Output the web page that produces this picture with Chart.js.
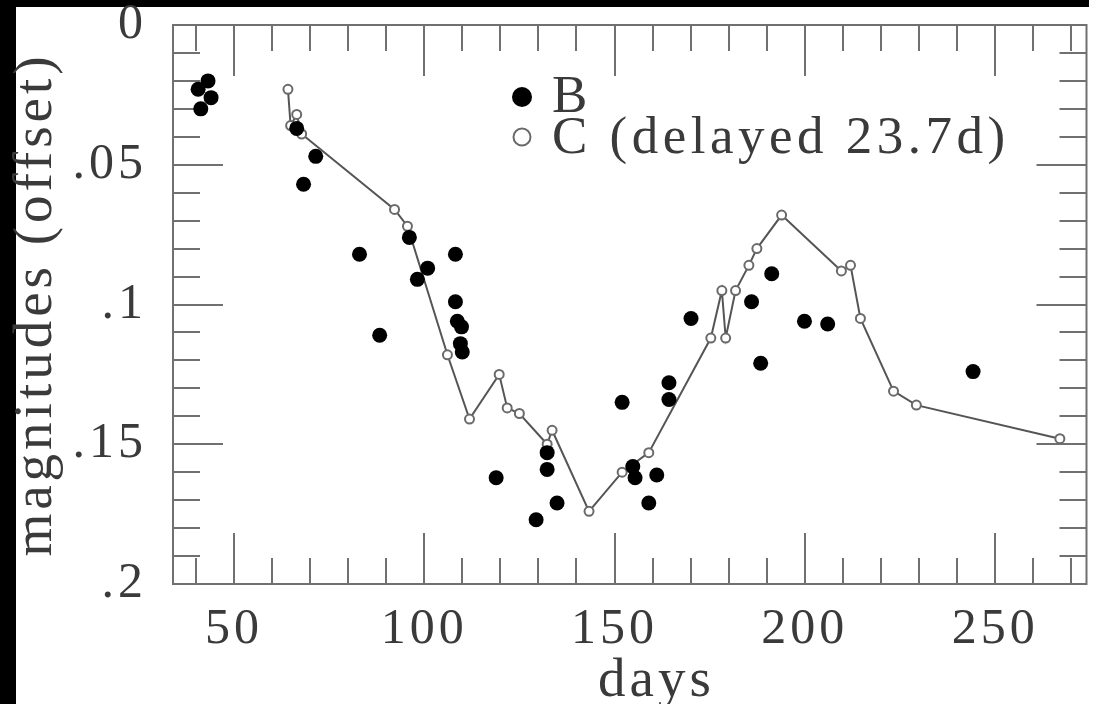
<!DOCTYPE html>
<html>
<head>
<meta charset="utf-8">
<script src="https://cdn.jsdelivr.net/npm/chart.js@4"></script>
<style>
  html, body { margin: 0; padding: 0; background: #fff; }
  canvas { display: block; }
</style>
</head>
<body>
<canvas id="lightcurve" width="1094" height="704"></canvas>
<script>
// image B, filled circles
const bDays = [43.2, 40.6, 44.0, 41.3, 66.5, 71.5, 68.3, 83.0, 88.3, 96.1, 98.2, 100.9,
  108.2, 108.2, 108.7, 109.8, 109.5, 110.0, 118.9, 129.4, 132.3, 132.3, 134.9, 152.0,
  154.8, 155.4, 161.1, 159.0, 164.3, 164.3, 170.1, 186.0, 191.3, 188.4, 199.9, 206.0, 244.2];
const bMags = [0.020, 0.023, 0.026, 0.030, 0.037, 0.047, 0.057, 0.082, 0.111, 0.076, 0.091, 0.087,
  0.082, 0.099, 0.106, 0.108, 0.114, 0.117, 0.162, 0.177, 0.153, 0.159, 0.171, 0.135,
  0.158, 0.162, 0.161, 0.171, 0.128, 0.134, 0.105, 0.099, 0.089, 0.121, 0.106, 0.107, 0.124];

// image C shifted by the delay, open circles joined by a line
const cDays = [64.2, 64.9, 66.5, 67.8, 92.2, 95.6, 106.1, 111.9, 119.7, 121.8, 125.0, 132.3,
  133.6, 143.3, 152.0, 159.0, 175.3, 178.2, 179.2, 181.8, 185.3, 187.4, 193.9, 209.6,
  212.0, 214.6, 223.3, 229.3, 267.0];
const cMags = [0.023, 0.036, 0.032, 0.039, 0.066, 0.072, 0.118, 0.141, 0.125, 0.137, 0.139, 0.150,
  0.145, 0.174, 0.160, 0.153, 0.112, 0.095, 0.112, 0.095, 0.086, 0.080, 0.068, 0.088,
  0.086, 0.105, 0.131, 0.136, 0.148];

const xTicks = [50, 100, 150, 200, 250];
const yTicks = [0, 0.05, 0.1, 0.15, 0.2];
const yTickLabels = ['0', '.05', '.1', '.15', '.2'];
const legendLabels = ['B', 'C (delayed 23.7d)'];

const serif = '"Liberation Serif", "Times New Roman", serif';
const inkColor = '#3a3a3a';

function points(xs, ys) {
  return xs.map((d, i) => ({x: d, y: ys[i]}));
}

// white page with the black scan edges, inward ticks and the box frame
const frameTicks = {
  id: 'frameTicks',
  beforeDraw(chart) {
    const ctx = chart.ctx;
    ctx.save();
    ctx.fillStyle = '#fff';
    ctx.fillRect(0, 0, chart.width, chart.height);
    ctx.fillStyle = '#000';
    ctx.fillRect(0, 0, 16, chart.height);
    ctx.fillRect(0, 0, 1089, 7);
    ctx.restore();
    ctx.letterSpacing = '4px';
  },
  beforeDatasetsDraw(chart) {
    const {ctx, chartArea: a, scales: {x, y}} = chart;
    ctx.save();
    ctx.strokeStyle = '#707070';
    ctx.lineWidth = 2;
    ctx.beginPath();
    for (let d = 40; d <= 270; d += 10) {
      const px = Math.round(x.getPixelForValue(d));
      const len = d % 50 === 0 ? 51 : 26;
      ctx.moveTo(px, a.bottom); ctx.lineTo(px, a.bottom - len);
      ctx.moveTo(px, a.top); ctx.lineTo(px, a.top + len);
    }
    for (let i = 1; i < 20; i++) {
      const py = Math.round(y.getPixelForValue(i / 100));
      const len = i % 5 === 0 ? 50 : 27;
      ctx.moveTo(a.left, py); ctx.lineTo(a.left + len, py);
      ctx.moveTo(a.right, py); ctx.lineTo(a.right - len, py);
    }
    ctx.stroke();
    ctx.strokeRect(a.left, a.top, a.right - a.left, a.bottom - a.top);
    ctx.restore();
  }
};

// the key sits inside the box, top middle
const insetLegend = {
  id: 'insetLegend',
  afterDraw(chart) {
    const ctx = chart.ctx;
    const rows = [{cy: 97, base: 112}, {cy: 137, base: 153}];
    ctx.save();
    ctx.font = '53px ' + serif;
    ctx.letterSpacing = '4.5px';
    chart.data.datasets.forEach((ds, i) => {
      ctx.beginPath();
      ctx.arc(522, rows[i].cy, i === 0 ? 10 : 8.5, 0, Math.PI * 2);
      ctx.fillStyle = ds.pointBackgroundColor;
      ctx.fill();
      if (ds.pointBorderWidth) {
        ctx.lineWidth = 2;
        ctx.strokeStyle = ds.pointBorderColor;
        ctx.stroke();
      }
      ctx.fillStyle = inkColor;
      ctx.fillText(legendLabels[i], 552, rows[i].base);
    });
    ctx.restore();
  }
};

const ctx = document.getElementById('lightcurve');

new Chart(ctx, {
  type: 'scatter',
  data: {
    datasets: [
      {
        label: legendLabels[0],
        data: points(bDays, bMags),
        pointRadius: 7.5,
        pointBackgroundColor: '#000',
        pointBorderWidth: 0,
        showLine: false
      },
      {
        label: legendLabels[1],
        data: points(cDays, cMags),
        pointRadius: 4.5,
        pointBackgroundColor: '#fff',
        pointBorderColor: '#6a6a6a',
        pointBorderWidth: 2,
        showLine: true,
        borderColor: '#555',
        borderWidth: 2,
        tension: 0
      }
    ]
  },
  options: {
    responsive: false,
    animation: false,
    devicePixelRatio: 1,
    layout: { padding: { top: 25, right: 5, left: 0, bottom: 0 } },
    plugins: {
      legend: { display: false },
      tooltip: { enabled: false }
    },
    scales: {
      x: {
        type: 'linear',
        min: 34,
        max: 274,
        grid: { display: false },
        border: { display: false },
        afterBuildTicks: (scale) => { scale.ticks = xTicks.map(v => ({value: v})); },
        afterFit: (scale) => {
          scale.height = 120;
          scale.paddingLeft = 0;
          scale.paddingRight = 0;
        },
        ticks: {
          color: inkColor,
          padding: 8,
          maxRotation: 0,
          font: { family: serif, size: 50 }
        },
        title: {
          display: true,
          text: '\u00a0\u00a0\u00a0days',
          color: inkColor,
          padding: { top: 0, bottom: 0 },
          font: { family: serif, size: 55, lineHeight: 0.8 }
        }
      },
      y: {
        type: 'linear',
        reverse: true,
        min: 0,
        max: 0.2,
        grid: { display: false },
        border: { display: false },
        afterBuildTicks: (scale) => { scale.ticks = yTicks.map(v => ({value: v})); },
        afterFit: (scale) => {
          scale.width = 173;
          scale.paddingTop = 0;
          scale.paddingBottom = 0;
        },
        ticks: {
          color: inkColor,
          padding: 18,
          font: { family: serif, size: 50 },
          callback: (value) => yTickLabels[yTicks.indexOf(value)]
        },
        title: {
          display: true,
          text: 'magnitudes (offset)',
          color: inkColor,
          padding: { top: 9, bottom: 0 },
          font: { family: serif, size: 55, lineHeight: 1 }
        }
      }
    }
  },
  plugins: [frameTicks, insetLegend]
});
</script>
</body>
</html>
